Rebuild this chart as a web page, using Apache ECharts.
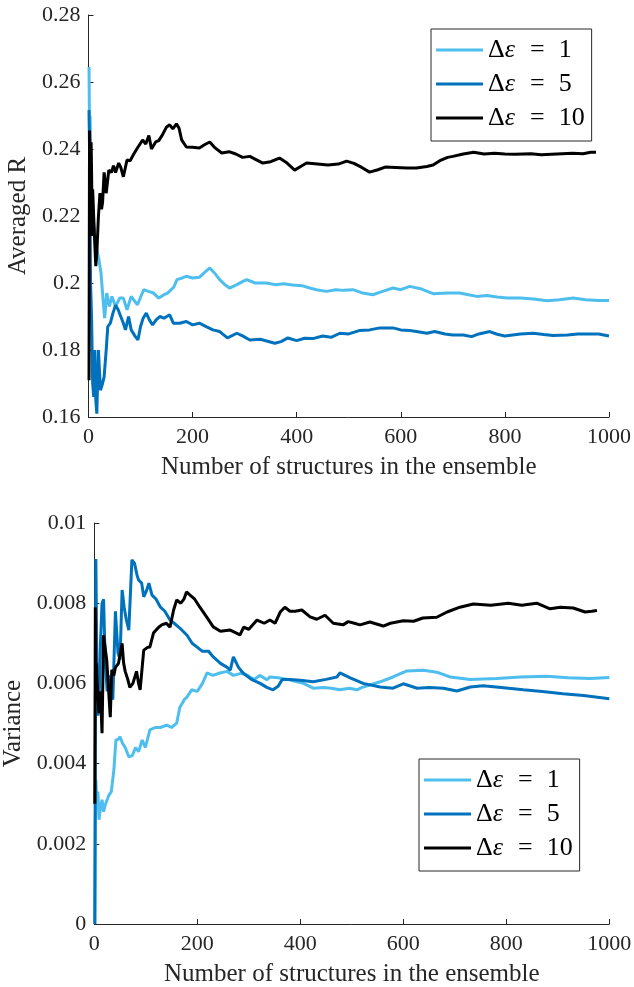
<!DOCTYPE html>
<html>
<head>
<meta charset="utf-8">
<script src="https://cdn.jsdelivr.net/npm/echarts@6/dist/echarts.min.js"></script>
<style>
  html, body { margin: 0; padding: 0; background: #fff; }
  #main { width: 634px; height: 987px; }
</style>
</head>
<body>
<div id="main"></div>
<script>
  // averaged R (top panel)
  var rX1 = [1,2,3,5,8,12,16,20,24,27,31,35,40,45,52,60,67,74,82,94,106,115,125,135,145,152,164,170,180,188,200,213,222,233,242,252,262,271,285,297,304,320,342,360,375,392,410,425,438,457,475,490,508,527,546,565,585,600,617,640,662,690,713,730,746,765,785,804,830,855,881,905,931,955,980,1000];
  var rY1 = [0.2645,0.245,0.25,0.232,0.22,0.215,0.21,0.207,0.203,0.197,0.1895,0.197,0.193,0.196,0.193,0.1955,0.1955,0.192,0.196,0.1935,0.198,0.1975,0.197,0.1955,0.1965,0.197,0.1988,0.201,0.2015,0.202,0.2015,0.2017,0.203,0.2045,0.203,0.201,0.1995,0.1985,0.1995,0.2005,0.201,0.2,0.2,0.1995,0.1998,0.1994,0.1992,0.1985,0.198,0.1975,0.198,0.1978,0.198,0.197,0.1965,0.1975,0.1985,0.198,0.199,0.1982,0.1968,0.197,0.197,0.1965,0.196,0.1963,0.1958,0.1955,0.1955,0.1952,0.1947,0.195,0.1955,0.195,0.1948,0.1948];
  var rX5 = [1,2,3,4,6,8,10,12,14,16,19,23,27,30,34,37,42,47,52,57,62,67,71,77,82,90,95,100,105,111,117,123,130,137,145,156,163,175,188,200,213,226,239,252,267,285,296,310,330,358,370,383,400,415,431,450,466,483,500,520,540,560,585,600,617,630,650,665,685,700,720,736,750,771,785,800,830,854,875,892,920,940,958,980,1000];
  var rY5 = [0.2516,0.24,0.22,0.2,0.189,0.17,0.166,0.18,0.165,0.161,0.18,0.168,0.17,0.172,0.18,0.187,0.188,0.191,0.1934,0.192,0.19,0.188,0.186,0.19,0.186,0.184,0.183,0.187,0.1895,0.191,0.189,0.1875,0.189,0.19,0.1895,0.1905,0.188,0.188,0.1885,0.1875,0.188,0.187,0.186,0.1855,0.1836,0.185,0.1842,0.183,0.1832,0.182,0.1825,0.1836,0.1828,0.1835,0.1834,0.1842,0.1838,0.185,0.1848,0.1858,0.186,0.1866,0.1866,0.186,0.1858,0.1855,0.185,0.1855,0.1848,0.1845,0.1845,0.184,0.1848,0.1855,0.1847,0.1842,0.1848,0.185,0.1846,0.1843,0.1845,0.1848,0.1848,0.1848,0.1842];
  var rX10 = [1,2,3,4,5,6,7,8,10,12,14,16,19,22,25,27,30,34,39,44,48,52,58,62,67,74,80,87,94,104,110,116,121,129,135,142,150,156,162,169,174,179,188,200,213,222,233,242,256,270,283,296,310,320,335,350,367,380,396,410,419,440,460,480,496,510,525,540,556,570,590,612,630,650,662,675,690,700,720,740,760,780,800,820,850,870,900,930,950,965,975];
  var rY10 = [0.171,0.2455,0.236,0.222,0.242,0.232,0.214,0.228,0.2197,0.212,0.205,0.209,0.2197,0.2268,0.222,0.224,0.233,0.2268,0.2337,0.233,0.235,0.233,0.2358,0.2345,0.2317,0.2367,0.2365,0.2385,0.2403,0.2427,0.2415,0.244,0.240,0.2421,0.2425,0.2442,0.2466,0.2472,0.246,0.2475,0.2462,0.2427,0.2406,0.2405,0.2403,0.2412,0.2421,0.2405,0.2388,0.2392,0.2385,0.2375,0.2378,0.237,0.2358,0.2362,0.2373,0.236,0.2337,0.235,0.2358,0.2355,0.2352,0.2355,0.2364,0.2357,0.2345,0.2331,0.2338,0.2346,0.2345,0.2343,0.2343,0.2348,0.2352,0.2365,0.2375,0.2378,0.2385,0.239,0.2385,0.2387,0.2385,0.2384,0.2386,0.2383,0.2385,0.2387,0.2386,0.239,0.239];

  // variance (bottom panel)
  var vX1 = [1,2,3,5,7,9,12,15,18,22,28,33,38,42,46,50,55,60,67,74,80,86,93,99,108,118,128,141,150,160,166,175,180,189,200,210,219,230,244,258,270,285,296,310,322,335,341,357,375,390,406,425,445,460,477,495,510,520,535,555,580,607,639,665,691,730,782,827,879,920,963,1000];
  var vY1 = [0,0.0025,0.0036,0.003,0.0033,0.0026,0.0029,0.0031,0.0028,0.003,0.0032,0.0033,0.00384,0.00459,0.0046,0.00467,0.0045,0.0044,0.00417,0.0042,0.0044,0.0043,0.00459,0.0044,0.00484,0.0049,0.0049,0.00496,0.0049,0.00501,0.0054,0.0056,0.00566,0.00584,0.0058,0.006,0.00626,0.0062,0.00626,0.0063,0.0062,0.00625,0.00621,0.0061,0.0062,0.00609,0.00616,0.00614,0.0061,0.00605,0.006,0.00588,0.0059,0.00588,0.00584,0.00588,0.00584,0.0059,0.00596,0.00604,0.00616,0.00631,0.00633,0.00628,0.00616,0.0061,0.00612,0.00616,0.00618,0.00614,0.00612,0.00615];
  var vX5 = [1,3,5,7,9,12,15,18,21,25,28,32,36,41,46,50,54,58,62,67,73,78,83,86,92,96,101,106,112,120,128,137,147,155,166,180,190,199,210,222,231,245,258,264,270,280,289,305,322,335,347,357,365,380,400,425,450,471,477,497,522,555,580,600,627,650,678,704,730,755,790,833,870,910,950,1000];
  var vY5 = [0,0.0091,0.0065,0.0052,0.0054,0.007,0.008,0.0081,0.0066,0.0058,0.0062,0.0057,0.0056,0.0078,0.00676,0.0066,0.00833,0.0079,0.0076,0.00733,0.00908,0.009,0.0087,0.00858,0.0085,0.00816,0.0083,0.0085,0.0082,0.0081,0.00791,0.0078,0.00758,0.0075,0.00738,0.0072,0.007,0.00691,0.0068,0.0068,0.00666,0.0065,0.0064,0.00633,0.00666,0.0064,0.00626,0.0061,0.006,0.0059,0.00584,0.00593,0.0061,0.0061,0.00608,0.00604,0.0061,0.00616,0.00626,0.00614,0.006,0.00591,0.00588,0.00599,0.00588,0.0059,0.00588,0.00581,0.00591,0.00594,0.0059,0.00584,0.0058,0.00574,0.0057,0.00562];
  var vX10 = [1,2,3,4,5,7,9,12,15,18,21,24,27,31,34,38,41,47,54,57,60,65,69,75,82,86,89,96,104,108,115,125,131,140,147,154,160,168,174,179,186,195,205,218,231,245,264,283,290,300,316,330,341,351,361,370,380,390,403,419,432,448,464,483,493,505,516,535,561,575,600,620,638,665,685,710,736,770,804,830,859,885,905,930,953,966,976];
  var vY10 = [0.003,0.0079,0.0062,0.0065,0.00616,0.0057,0.00526,0.0058,0.00476,0.0072,0.00716,0.0066,0.006,0.00516,0.00634,0.0062,0.0064,0.0065,0.007,0.0065,0.0063,0.0061,0.0059,0.006,0.0063,0.006,0.00584,0.00683,0.0069,0.00691,0.00726,0.0074,0.00746,0.0075,0.0074,0.00783,0.00808,0.008,0.0081,0.00828,0.0082,0.0081,0.0079,0.00766,0.00741,0.0073,0.00733,0.00721,0.0074,0.00735,0.00758,0.0075,0.00758,0.0075,0.00778,0.0079,0.0078,0.0078,0.00783,0.00766,0.0076,0.0077,0.0075,0.00746,0.00754,0.0075,0.00746,0.00753,0.00743,0.0075,0.00756,0.00755,0.00763,0.00765,0.00778,0.0079,0.00798,0.00795,0.008,0.00795,0.008,0.00786,0.0079,0.00788,0.00778,0.0078,0.00782];

  var names = ['Δε = 1', 'Δε = 5', 'Δε = 10'];
  var colors = ['#4DBEEE', '#0072BD', '#000000'];

  var axisColor = '#262626';
  var font = 'Liberation Serif';

  function zip(xs, ys) {
    return xs.map(function (x, i) { return [x, ys[i]]; });
  }

  function xAxisFor(grid) {
    return {
      type: 'value', gridIndex: grid, min: 0, max: 1000, interval: 200,
      name: 'Number of structures in the ensemble',
      nameLocation: 'middle', nameGap: 38,
      nameTextStyle: { fontFamily: font, fontSize: 25, color: axisColor },
      axisLine: { show: true, lineStyle: { color: axisColor, width: 1 } },
      axisTick: { show: true, inside: true, length: 5, lineStyle: { color: axisColor } },
      axisLabel: {
        fontFamily: font, fontSize: 22, color: axisColor, margin: 9,
        formatter: function (v) { return String(v); }
      },
      splitLine: { show: false }
    };
  }

  function yAxisFor(grid, min, max, step, name, gap) {
    return {
      type: 'value', gridIndex: grid, min: min, max: max, interval: step,
      name: name, nameLocation: 'middle', nameGap: gap,
      nameTextStyle: { fontFamily: font, fontSize: 25, color: axisColor },
      axisLine: { show: true, lineStyle: { color: axisColor, width: 1 } },
      axisTick: { show: true, inside: true, length: 5, lineStyle: { color: axisColor } },
      axisLabel: {
        fontFamily: font, fontSize: 22, color: axisColor, margin: 8,
        formatter: function (v) { return String(parseFloat(v.toFixed(4))); }
      },
      splitLine: { show: false }
    };
  }

  function legendFor(left, top) {
    return {
      data: names, orient: 'vertical', left: left, top: top,
      icon: 'rect', itemWidth: 47, itemHeight: 3, itemGap: 6,
      padding: [7, 7, 9, 5],
      borderColor: axisColor, borderWidth: 1, backgroundColor: '#fff',
      selectedMode: false,
      formatter: function (n) {
        return '{d|Δ}{e|ε}{q|=}{n|' + n.split('= ')[1] + '}';
      },
      textStyle: {
        fontFamily: font, fontSize: 26, color: '#000', lineHeight: 28,
        rich: {
          d: { fontFamily: font, fontSize: 26, lineHeight: 28 },
          e: { fontFamily: font, fontSize: 26, fontStyle: 'italic', lineHeight: 28, padding: [0, 1, 0, 0] },
          q: { fontFamily: font, fontSize: 26, padding: [0, 14], lineHeight: 28 },
          n: { fontFamily: font, fontSize: 26, lineHeight: 28 }
        }
      }
    };
  }

  var topData = [zip(rX1, rY1), zip(rX5, rY5), zip(rX10, rY10)];
  var botData = [zip(vX1, vY1), zip(vX5, vY5), zip(vX10, vY10)];

  var series = [];
  [topData, botData].forEach(function (set, g) {
    set.forEach(function (d, i) {
      series.push({
        name: names[i], type: 'line', xAxisIndex: g, yAxisIndex: g,
        data: d, showSymbol: false, symbol: 'none',
        lineStyle: { color: colors[i], width: 3 },
        itemStyle: { color: colors[i] }
      });
    });
  });

  var chart = echarts.init(document.getElementById('main'));
  chart.setOption({
    animation: false,
    backgroundColor: '#fff',
    grid: [
      { left: 88.5, top: 15, width: 520.5, height: 402, outerBoundsMode: 'none', containLabel: false },
      { left: 94.3, top: 523, width: 515, height: 401, outerBoundsMode: 'none', containLabel: false }
    ],
    xAxis: [xAxisFor(0), xAxisFor(1)],
    yAxis: [
      yAxisFor(0, 0.16, 0.28, 0.02, 'Averaged R', 56),
      yAxisFor(1, 0, 0.01, 0.002, 'Variance', 65)
    ],
    legend: [legendFor(431, 29), legendFor(419, 759)],
    series: series
  });
</script>
</body>
</html>
